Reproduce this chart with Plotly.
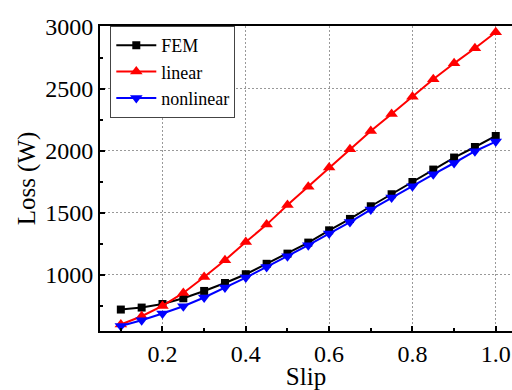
import plotly.graph_objects as go

# Slip values and loss (W) for each method
slip = [0.10, 0.15, 0.20, 0.25, 0.30, 0.35, 0.40, 0.45, 0.50, 0.55,
        0.60, 0.65, 0.70, 0.75, 0.80, 0.85, 0.90, 0.95, 1.00]
fem = [721, 737, 766, 812, 871, 935, 1006, 1090, 1172, 1261,
       1360, 1452, 1554, 1651, 1750, 1850, 1947, 2032, 2121]
linear = [600, 667, 750, 855, 984, 1119, 1266, 1406, 1565, 1712,
          1866, 2014, 2161, 2298, 2438, 2578, 2707, 2828, 2957]
nonlinear = [589, 635, 689, 748, 818, 898, 979, 1065, 1151, 1240,
             1334, 1427, 1527, 1624, 1715, 1812, 1903, 1998, 2076]

FONT = "Liberation Serif, Times New Roman, serif"

fig = go.Figure()
fig.add_trace(go.Scatter(
    x=slip, y=fem, name="FEM", mode="lines+markers",
    line=dict(color="black", width=2),
    marker=dict(symbol="square", size=8, color="black")))
fig.add_trace(go.Scatter(
    x=slip, y=linear, name="linear", mode="lines+markers",
    line=dict(color="#ff0000", width=2),
    marker=dict(symbol="triangle-up", size=11, color="#ff0000")))
fig.add_trace(go.Scatter(
    x=slip, y=nonlinear, name="nonlinear", mode="lines+markers",
    line=dict(color="#0000ff", width=2),
    marker=dict(symbol="triangle-down", size=11, color="#0000ff")))

grid = dict(showgrid=True, gridcolor="#999999", gridwidth=1, griddash="2px,2px")

fig.update_layout(
    width=512, height=390,
    margin=dict(l=100, r=0, t=26, b=59),
    paper_bgcolor="white", plot_bgcolor="white",
    font=dict(family=FONT, color="black", size=24),
    showlegend=True,
    legend=dict(x=0.025, y=1.0, xanchor="left", yanchor="top",
                bgcolor="white", bordercolor="#444444", borderwidth=1,
                font=dict(family=FONT, size=18, color="black"),
                tracegroupgap=0, itemwidth=40),
    xaxis=dict(range=[0.05, 1.039], tick0=0, dtick=0.2, tickformat=".1f",
               showline=True, linecolor="black", linewidth=2, mirror=True,
               ticks="inside", ticklen=5, tickcolor="black", tickwidth=1.5,
               minor=dict(ticks="inside", ticklen=3, dtick=0.1, tick0=0,
                          tickcolor="black", showgrid=False),
               title=dict(text="Slip", font=dict(family=FONT, size=25), standoff=2),
               zeroline=False, **grid),
    yaxis=dict(range=[548, 3008], tick0=0, dtick=500,
               showline=True, linecolor="black", linewidth=2, mirror=False,
               ticks="inside", ticklen=5, tickcolor="black", tickwidth=1.5,
               minor=dict(ticks="inside", ticklen=3, dtick=250, tick0=0,
                          tickcolor="black", showgrid=False),
               title=dict(text="Loss (W)", font=dict(family=FONT, size=25), standoff=2),
               zeroline=False, **grid),
)

fig.write_html("out.html")
